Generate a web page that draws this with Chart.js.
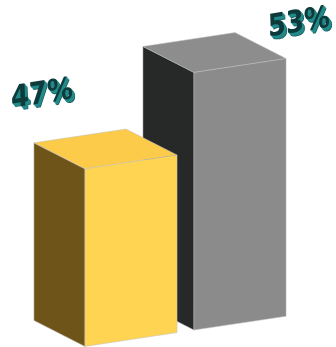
<!DOCTYPE html>
<html>
<head>
<meta charset="utf-8">
<script src="https://cdn.jsdelivr.net/npm/chart.js@4.4.1/dist/chart.umd.min.js"></script>
<style>
html,body{margin:0;padding:0;background:#fff;}
#wrap{width:336px;height:347px;position:relative;}
</style>
</head>
<body>
<div id="wrap"><canvas id="c" width="336" height="347"></canvas></div>
<script>
const categories = ['A', 'B'];
const values = [47, 53];
const valueLabels = ['47%', '53%'];
const axisMin = 33.7;
const axisMax = 56;

const frontColors = ['#ffd452', '#8b8b8b'];
const topColors = ['#fdcb4a', '#8d8d8d'];
const sideColors = ['#6e5419', '#272928'];

const SLOPE = -0.15;
const DEPTH = {x: -51, y: -26};
const labelOffsets = [{x: -89, y: -67}, {x: 59, y: -42}];

const bars3d = {
  id: 'bars3d',
  beforeDatasetDraw() { return false; },
  afterDatasetsDraw(chart) {
    const ctx = chart.ctx;
    const meta = chart.getDatasetMeta(0);
    const refX = meta.data[0].x;
    const sk = (px, py) => ({x: px, y: py + SLOPE * (px - refX)});
    const poly = (pts, fill) => {
      ctx.beginPath();
      ctx.moveTo(pts[0].x, pts[0].y);
      for (let i = 1; i < pts.length; i++) ctx.lineTo(pts[i].x, pts[i].y);
      ctx.closePath();
      ctx.fillStyle = fill;
      ctx.fill();
      ctx.lineWidth = 0.7;
      ctx.strokeStyle = 'rgba(190,190,190,0.7)';
      ctx.stroke();
    };
    const add = (p) => ({x: p.x + DEPTH.x, y: p.y + DEPTH.y});
    ctx.save();
    for (let i = meta.data.length - 1; i >= 0; i--) {
      const el = meta.data[i];
      const L = el.x - el.width / 2, R = el.x + el.width / 2;
      const flb = sk(L, el.base), frb = sk(R, el.base);
      const flt = sk(L, el.y), frt = sk(R, el.y);
      poly([flt, flb, add(flb), add(flt)], sideColors[i]);
      poly([flt, frt, add(frt), add(flt)], topColors[i]);
      poly([flb, frb, frt, flt], frontColors[i]);
    }
    // labels
    for (let i = 0; i < meta.data.length; i++) {
      const el = meta.data[i];
      const top = sk(el.x, el.y);
      const cx = top.x + labelOffsets[i].x, cy = top.y + labelOffsets[i].y;
      ctx.save();
      ctx.translate(cx, cy);
      ctx.rotate(-9 * Math.PI / 180);
      ctx.transform(1, 0, -0.12, 1, 0, 0);
      ctx.scale(0.97, 1.13);
      ctx.font = 'bold 27px "DejaVu Sans"';
      ctx.textAlign = 'center';
      ctx.textBaseline = 'middle';
      for (let k = 5; k >= 1; k--) {
        ctx.fillStyle = k === 5 ? '#145a5a' : '#238a8a';
        ctx.fillText(valueLabels[i], k * 0.6, k * 0.7);
      }
      ctx.fillStyle = '#0d3b3c';
      ctx.fillText(valueLabels[i], 0, 0);
      ctx.restore();
    }
    ctx.restore();
  }
};

new Chart(document.getElementById('c'), {
  type: 'bar',
  data: {
    labels: categories,
    datasets: [{
      data: values,
      base: axisMin,
      backgroundColor: frontColors,
      barPercentage: 0.845,
      categoryPercentage: 1.0
    }]
  },
  options: {
    responsive: false,
    animation: false,
    layout: {padding: {left: 76.5, right: 41.5, top: 41.8, bottom: 7.5}},
    plugins: {legend: {display: false}, tooltip: {enabled: false}},
    scales: {
      x: {display: false},
      y: {display: false, min: axisMin, max: axisMax}
    }
  },
  plugins: [bars3d]
});
</script>
</body>
</html>
